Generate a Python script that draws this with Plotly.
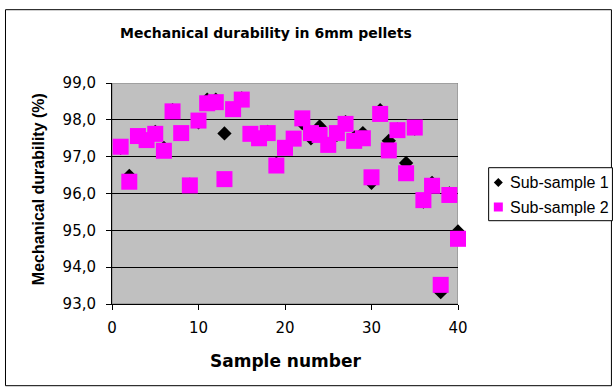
import plotly.graph_objects as go

# Sample numbers and measured mechanical durability (%) for the two sub-samples
sample = list(range(1, 41))
sub_sample_1 = [97.24, 96.48, 97.55, 97.45, 97.67, 97.24, 98.26, 97.64, 96.24, 97.93,
                98.55, 98.55, 97.63, 98.30, 98.58, 97.62, 97.50, 97.67, 96.81, 97.24,
                97.50, 97.91, 97.50, 97.82, 97.33, 97.59, 97.94, 97.52, 97.64, 96.29,
                98.26, 97.43, 97.74, 96.83, 97.76, 95.78, 96.29, 93.32, 96.00, 94.97]
sub_sample_2 = [97.27, 96.32, 97.56, 97.45, 97.62, 97.16, 98.23, 97.64, 96.22, 97.98,
                98.45, 98.48, 96.39, 98.29, 98.55, 97.62, 97.50, 97.64, 96.76, 97.24,
                97.49, 98.04, 97.64, 97.59, 97.32, 97.64, 97.89, 97.43, 97.50, 96.44,
                98.16, 97.17, 97.72, 96.55, 97.79, 95.82, 96.21, 93.52, 95.96, 94.77]
series_names = ["Sub-sample 1", "Sub-sample 2"]
x_ticks = [0, 10, 20, 30, 40]
y_ticks = [93, 94, 95, 96, 97, 98, 99]

W, H = 616, 387
PL, PR, PT, PB = 111.7, 458.3, 83.3, 304.3  # plot-area edges in pixels


def px_x(p):
    return (p - PL) / (PR - PL)


def px_y(p):
    return (PB - p) / (PB - PT)


FONT = "Liberation Sans, Arial, sans-serif"
WIDE = "DejaVu Sans, Liberation Sans, sans-serif"
PINK = "#FF00FF"

fig = go.Figure()
fig.add_trace(go.Scatter(
    x=sample, y=sub_sample_1, mode="markers", name=series_names[0], cliponaxis=False,
    marker=dict(symbol="diamond", size=11, color="black", line=dict(width=0))))
fig.add_trace(go.Scatter(
    x=sample, y=sub_sample_2, mode="markers", name=series_names[1], cliponaxis=False,
    marker=dict(symbol="square", size=16, color=PINK, line=dict(width=0))))

fig.update_layout(
    width=W, height=H,
    margin=dict(l=PL, r=W - PR, t=PT, b=H - PB, pad=0, autoexpand=False),
    paper_bgcolor="white", plot_bgcolor="#C0C0C0",
    separators=",.",
    font=dict(family=FONT, color="black", size=16),
    showlegend=False,
)

fig.update_xaxes(
    range=[0, 40], tickvals=x_ticks, ticks="outside", ticklen=5, tickcolor="black",
    showline=True, linecolor="black", linewidth=1, showgrid=False, zeroline=False,
    tickfont=dict(family=WIDE, size=15, color="black"), ticklabelstandoff=5,
)
fig.update_yaxes(
    range=[93, 99], tickvals=y_ticks, tickformat=".1f", ticks="outside", ticklen=5,
    tickcolor="black", showline=True, linecolor="black", linewidth=1,
    showgrid=True, gridcolor="black", gridwidth=1, zeroline=False,
    tickfont=dict(family=WIDE, size=15, color="black"), ticklabelstandoff=7,
)

# grey frame on the top and right of the plot area
fig.add_shape(type="rect", xref="x", yref="y", x0=0, x1=40, y0=93, y1=99,
              line=dict(color="#808080", width=1), layer="below")
# outer chart border
fig.add_shape(type="rect", xref="paper", yref="paper",
              x0=px_x(5), x1=px_x(612), y0=px_y(386), y1=px_y(10),
              line=dict(color="black", width=1))

# legend box with key symbols and labels
fig.add_shape(type="rect", xref="paper", yref="paper",
              x0=px_x(489), x1=px_x(613), y0=px_y(221), y1=px_y(168),
              line=dict(color="black", width=1), fillcolor="white")
key_y = [182.7, 207.3]
fig.add_shape(type="path", xref="paper", yref="paper",
              xsizemode="pixel", ysizemode="pixel",
              xanchor=px_x(498.7), yanchor=px_y(key_y[0]),
              path="M -4.5 0 L 0 4.5 L 4.5 0 L 0 -4.5 Z",
              fillcolor="black", line=dict(width=0))
fig.add_shape(type="rect", xref="paper", yref="paper",
              xsizemode="pixel", ysizemode="pixel",
              xanchor=px_x(498.7), yanchor=px_y(key_y[1]),
              x0=-4.5, x1=4.5, y0=-4.5, y1=4.5,
              fillcolor=PINK, line=dict(width=0))
for name, ky in zip(series_names, key_y):
    fig.add_annotation(text=name, xref="paper", yref="paper",
                       x=px_x(508), y=px_y(ky), xanchor="left", yanchor="middle",
                       showarrow=False,
                       font=dict(family=FONT, size=16, color="black"))

fig.add_annotation(text="<b>Mechanical durability in 6mm pellets</b>",
                   xref="paper", yref="paper", x=px_x(266), y=px_y(33),
                   xanchor="center", yanchor="middle", showarrow=False,
                   font=dict(family=WIDE, size=14, color="black"))
fig.add_annotation(text="<b>Sample number</b>",
                   xref="paper", yref="paper", x=px_x(285), y=px_y(361),
                   xanchor="center", yanchor="middle", showarrow=False,
                   font=dict(family=WIDE, size=17, color="black"))
fig.add_annotation(text="<b>Mechanical durability (%)</b>",
                   xref="paper", yref="paper", x=px_x(38), y=px_y(189),
                   xanchor="center", yanchor="middle", showarrow=False, textangle=-90,
                   font=dict(family=FONT, size=16, color="black"))

fig.write_html("out.html")
